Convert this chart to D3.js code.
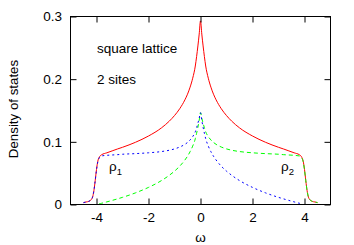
<!DOCTYPE html>
<html>
  <head>
    <meta charset="utf-8">
    <title>Density of states</title>
    <script src="https://d3js.org/d3.v7.min.js"></script>
    <style>
      body { margin: 0; background: #fff; }
      svg { display: block; font-family: "Liberation Sans", Arial, sans-serif; }
      text { fill: #000; }
    </style>
  </head>
  <body>
    <div id="chart"></div>
    <script>
      // data
      var omega = [-4.5, -4.4, -4.3, -4.2, -4.15, -4.1, -4.05, -4.0, -3.95, -3.9, -3.85, -3.8, -3.6, -3.4, -3.2, -3.0,
        -2.5, -2.0, -1.5, -1.2, -1.0, -0.8, -0.6, -0.5, -0.4, -0.3, -0.2, -0.15, -0.1, -0.05, 0,
        0.05, 0.1, 0.15, 0.2, 0.3, 0.4, 0.5, 0.6, 0.8, 1.0, 1.2, 1.5, 2.0, 2.5,
        3.0, 3.2, 3.4, 3.6, 3.8, 3.85, 3.9, 3.95, 4.0, 4.05, 4.1, 4.15, 4.2, 4.3, 4.4, 4.5];
      var rhoTotal = [0.003, 0.004, 0.005, 0.008, 0.012, 0.022, 0.038, 0.056, 0.069, 0.075, 0.078, 0.0795, 0.0825, 0.0855, 0.0885, 0.0913,
        0.0993, 0.1093, 0.1223, 0.1330, 0.1419, 0.1528, 0.1670, 0.1760, 0.1873, 0.2015, 0.2210, 0.2360, 0.2530, 0.2720, 0.2930,
        0.2720, 0.2530, 0.2360, 0.2210, 0.2015, 0.1873, 0.1760, 0.1670, 0.1528, 0.1419, 0.1330, 0.1223, 0.1093, 0.0993,
        0.0913, 0.0885, 0.0855, 0.0825, 0.0795, 0.078, 0.075, 0.069, 0.056, 0.038, 0.022, 0.012, 0.008, 0.005, 0.004, 0.003];
      var rho1 = [0.003, 0.004, 0.005, 0.008, 0.012, 0.022, 0.038, 0.055, 0.068, 0.074, 0.0765, 0.0775, 0.0785, 0.079, 0.0795, 0.0802,
        0.0812, 0.0825, 0.0845, 0.0866, 0.0887, 0.0917, 0.0960, 0.0990, 0.1030, 0.1083, 0.1160, 0.1224, 0.1297, 0.1377, 0.1465,
        0.1343, 0.1233, 0.1136, 0.1050, 0.0932, 0.0843, 0.0770, 0.0710, 0.0611, 0.0532, 0.0466, 0.0382, 0.0273, 0.0186,
        0.0114, 0.0089, 0.0065, 0.0042, 0.0020, 0.0015, 0.001, null, null, null, null, null, null, null, null, null];
      var rho2 = [null, null, null, null, null, null, null, null, null, 0.001, 0.0015, 0.0020, 0.0042, 0.0065, 0.0089, 0.0114,
        0.0186, 0.0273, 0.0382, 0.0466, 0.0532, 0.0611, 0.0710, 0.0770, 0.0843, 0.0932, 0.1050, 0.1136, 0.1233, 0.1343, 0.1465,
        0.1377, 0.1297, 0.1224, 0.1160, 0.1083, 0.1030, 0.0990, 0.0960, 0.0917, 0.0887, 0.0866, 0.0845, 0.0825, 0.0812,
        0.0802, 0.0795, 0.079, 0.0785, 0.0775, 0.0765, 0.074, 0.068, 0.055, 0.038, 0.022, 0.012, 0.008, 0.005, 0.004, 0.003];
      var xTicks = [-4, -2, 0, 2, 4];
      var yTicks = [0, 0.1, 0.2, 0.3];

      var width = 354, height = 245;
      var fontSize = "13.5px";
      var x = d3.scaleLinear().domain([-5, 5]).range([70.5, 330.5]);
      var y = d3.scaleLinear().domain([0, 0.3]).range([204.5, 16.5]);

      var svg = d3.select("#chart").append("svg")
        .attr("width", width)
        .attr("height", height);

      // curves
      function drawCurve(vals, color, dash) {
        var line = d3.line()
          .defined(function(d, i) { return vals[i] != null; })
          .x(function(d) { return x(d); })
          .y(function(d, i) { return y(vals[i]); })
          .curve(d3.curveMonotoneX);
        svg.append("path")
          .attr("d", line(omega))
          .attr("fill", "none")
          .attr("stroke", color)
          .attr("stroke-width", 1)
          .attr("stroke-dasharray", dash);
      }
      drawCurve(rhoTotal, "#ff0000", null);
      drawCurve(rho2, "#00ff00", "4,3");
      drawCurve(rho1, "#0000ff", "2,3");

      // axes: inward ticks on all four sides, gnuplot style
      var tickLen = 6;
      svg.append("g")
        .attr("transform", "translate(0," + y(0) + ")")
        .call(d3.axisBottom(x).tickValues(xTicks).tickSize(-tickLen).tickPadding(8).tickFormat(function(d) { return String(d); }));
      svg.append("g")
        .attr("transform", "translate(0," + y(0.3) + ")")
        .call(d3.axisTop(x).tickValues(xTicks).tickSize(-tickLen).tickFormat(""));
      svg.append("g")
        .attr("transform", "translate(" + x(-5) + ",0)")
        .call(d3.axisLeft(y).tickValues(yTicks).tickSize(-tickLen).tickPadding(8.5).tickFormat(function(d) { return d === 0 ? "0" : d3.format(".1f")(d); }));
      svg.append("g")
        .attr("transform", "translate(" + x(5) + ",0)")
        .call(d3.axisRight(y).tickValues(yTicks).tickSize(-tickLen).tickFormat(""));

      svg.selectAll(".domain").remove();
      svg.selectAll(".tick line").attr("stroke", "#000");
      svg.selectAll(".tick text").attr("font-size", fontSize).attr("font-family", "Liberation Sans, Arial, sans-serif").attr("fill", "#000");

      // border
      svg.append("rect")
        .attr("x", x(-5))
        .attr("y", y(0.3))
        .attr("width", x(5) - x(-5))
        .attr("height", y(0) - y(0.3))
        .attr("fill", "none")
        .attr("stroke", "#000")
        .attr("stroke-width", 1);

      // labels
      svg.append("text")
        .attr("transform", "translate(18," + 109 + ") rotate(-90)")
        .attr("text-anchor", "middle")
        .attr("font-size", "13.3px")
        .text("Density of states");
      svg.append("text")
        .attr("x", x(0))
        .attr("y", 242)
        .attr("text-anchor", "middle")
        .attr("font-size", fontSize)
        .text("ω");
      svg.append("text").attr("x", 97).attr("y", 52.5).attr("font-size", fontSize).text("square lattice");
      svg.append("text").attr("x", 97).attr("y", 83.5).attr("font-size", fontSize).text("2 sites");

      var r1 = svg.append("text").attr("x", 109).attr("y", 171).attr("font-size", fontSize);
      r1.append("tspan").text("ρ");
      r1.append("tspan").attr("dy", 4).attr("font-size", "9.5px").text("1");
      var r2 = svg.append("text").attr("x", 281).attr("y", 171).attr("font-size", fontSize);
      r2.append("tspan").text("ρ");
      r2.append("tspan").attr("dy", 4).attr("font-size", "9.5px").text("2");
    </script>
  </body>
</html>
